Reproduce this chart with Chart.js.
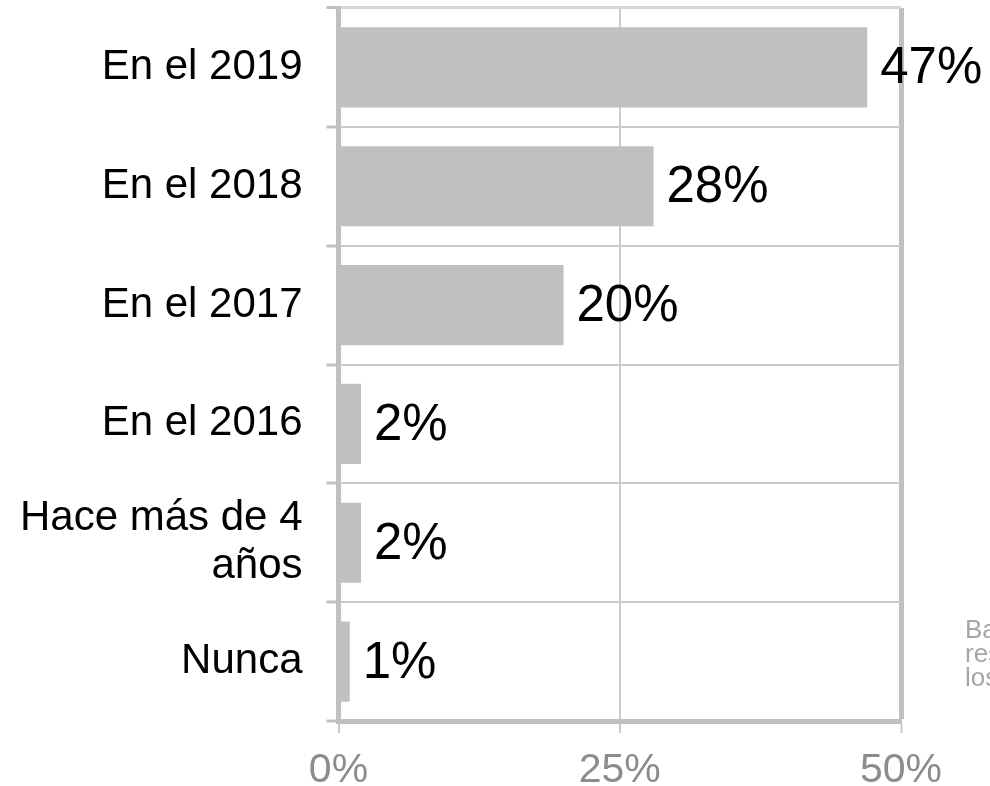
<!DOCTYPE html>
<html>
<head>
<meta charset="utf-8">
<script src="https://cdn.jsdelivr.net/npm/chart.js@4/dist/chart.umd.min.js"></script>
<style>
  html, body { margin: 0; padding: 0; background: #fff; overflow: hidden; }
  .wrap { position: relative; width: 990px; height: 786px; overflow: hidden; }
  canvas { position: absolute; left: 0; top: 0; }
  .note {
    position: absolute; left: 965px; top: 617px; white-space: nowrap;
    font-family: "Liberation Sans", Arial, sans-serif; font-size: 26px; line-height: 24px;
    color: #a6a6a6;
  }
</style>
</head>
<body>
<div class="wrap">
  <canvas id="chart" width="990" height="786"></canvas>
  <div class="note">Base:<br>respondieron<br>los encuestados</div>
</div>
<script>
const categories = ['En el 2019', 'En el 2018', 'En el 2017', 'En el 2016', ['Hace más de 4', 'años'], 'Nunca']
const shares = [47, 28, 20, 2, 2, 1]
const xTicks = [0, 25, 50]

const FONT = '"Liberation Sans", Arial, sans-serif'
const barGray = '#c0c0c0'

// value labels drawn after the bars
const valueLabels = {
    id: 'valueLabels',
    afterDatasetsDraw(chart) {
        const ctx = chart.ctx
        const meta = chart.getDatasetMeta(0)
        ctx.save()
        ctx.font = '51px ' + FONT
        ctx.fillStyle = '#000'
        ctx.textAlign = 'left'
        ctx.textBaseline = 'middle'
        meta.data.forEach((bar, i) => {
            ctx.fillText(shares[i] + '%', bar.x + 13, bar.y + 2)
        })
        ctx.restore()
    }
}

new Chart(document.getElementById('chart').getContext('2d'), {
    type: 'bar',
    data: {
        labels: categories,
        datasets: [{
            data: shares,
            backgroundColor: barGray,
            borderWidth: 0,
            categoryPercentage: 1,
            barPercentage: 0.675
        }]
    },
    options: {
        indexAxis: 'y',
        responsive: false,
        animation: false,
        layout: { padding: { top: 8, right: 89, left: 0, bottom: 0 } },
        plugins: { legend: { display: false }, tooltip: { enabled: false } },
        scales: {
            x: {
                min: 0,
                max: 50,
                afterBuildTicks: (scale) => { scale.ticks = xTicks.map(v => ({value: v})) },
                afterFit: (scale) => {
                    scale.height = 65
                    scale.paddingLeft = 0
                    scale.paddingRight = 0
                },
                border: { color: barGray, width: 5 },
                grid: {
                    color: (c) => c.index === 2 ? barGray : '#cccccc',
                    lineWidth: (c) => c.index === 2 ? 5 : 2,
                    tickColor: '#c8c8c8',
                    tickWidth: 2,
                    tickLength: 12
                },
                ticks: {
                    color: '#8c8c8c',
                    font: { family: FONT, size: 41 },
                    padding: 13,
                    callback: (v) => v + '%'
                }
            },
            y: {
                afterFit: (scale) => {
                    scale.width = 338.5
                    scale.paddingTop = 0
                    scale.paddingBottom = 0
                },
                border: { color: barGray, width: 5 },
                grid: {
                    color: (c) => c.index === 0 ? '#d6d6d6' : '#cccccc',
                    lineWidth: (c) => c.index === 0 ? 3 : 2,
                    tickColor: '#c0c0c0',
                    tickWidth: 3,
                    tickLength: 12
                },
                ticks: {
                    color: '#000',
                    font: { family: FONT, size: 42, lineHeight: 1.15 },
                    padding: 24
                }
            }
        }
    },
    plugins: [valueLabels]
})
</script>
</body>
</html>
